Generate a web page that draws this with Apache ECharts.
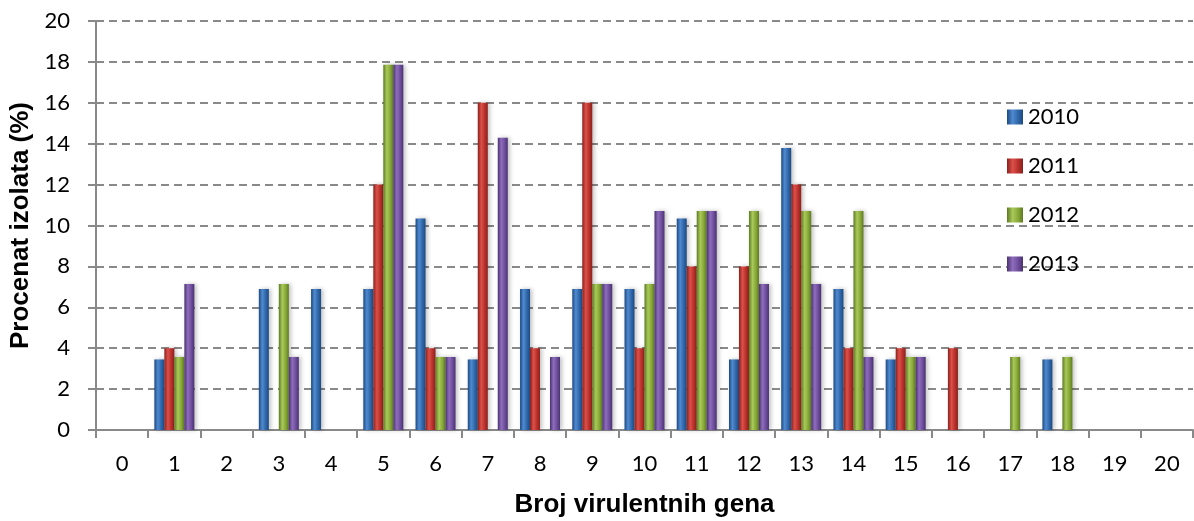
<!DOCTYPE html>
<html>
<head>
<meta charset="utf-8">
<script src="https://cdn.jsdelivr.net/npm/echarts@6/dist/echarts.min.js"></script>
<style>
  html, body { margin: 0; padding: 0; background: #fff; }
  #main { width: 1194px; height: 521px; }
</style>
</head>
<body>
<div id="main"></div>
<script>
// kategorije: broj virulentnih gena
const categories = ['0','1','2','3','4','5','6','7','8','9','10','11','12','13','14','15','16','17','18','19','20'];
// procenat izolata po godini (0 = nema stubića)
const y2010 = [0, 3.45, 0, 6.9, 6.9, 6.9, 10.34, 3.45, 6.9, 6.9, 6.9, 10.34, 3.45, 13.79, 6.9, 3.45, 0, 0, 3.45, 0, 0];
const y2011 = [0, 4, 0, 0, 0, 12, 4, 16, 4, 16, 4, 8, 8, 12, 4, 4, 4, 0, 0, 0, 0];
const y2012 = [0, 3.57, 0, 7.14, 0, 17.86, 3.57, 0, 0, 7.14, 7.14, 10.71, 10.71, 10.71, 10.71, 3.57, 0, 3.57, 3.57, 0, 0];
const y2013 = [0, 7.14, 0, 3.57, 0, 17.86, 3.57, 14.29, 3.57, 7.14, 10.71, 10.71, 7.14, 7.14, 3.57, 3.57, 0, 0, 0, 0, 0];
const yTicks = [0, 2, 4, 6, 8, 10, 12, 14, 16, 18, 20];

const chart = echarts.init(document.getElementById('main'));

// "3D" izgled stubića - horizontalni gradijent
function grad(dark, mid, light) {
    return new echarts.graphic.LinearGradient(0, 0, 1, 0, [
        { offset: 0, color: dark },
        { offset: 0.35, color: light },
        { offset: 0.7, color: mid },
        { offset: 1, color: dark }
    ]);
}

function makeSeries(name, data, c) {
    return {
        name: name,
        type: 'bar',
        data: data.map(v => (v === 0 ? null : v)),
        barWidth: 10,
        barGap: '0%',
        itemStyle: {
            color: grad(c[0], c[1], c[2]),
            shadowColor: 'rgba(0,0,0,0.25)',
            shadowBlur: 4,
            shadowOffsetX: 2
        }
    };
}

const option = {
    animation: false,
    textStyle: { fontFamily: 'Lato' },
    grid: { left: 96, right: 1, top: 21, bottom: 91, containLabel: false, outerBoundsMode: 'none' },
    legend: {
        orient: 'vertical',
        left: 1002,
        top: 101,
        itemWidth: 16,
        itemHeight: 15,
        itemGap: 27,
        icon: 'rect',
        textStyle: { fontSize: 22, lineHeight: 22, color: '#000', fontFamily: 'Lato' },
        data: ['2010', '2011', '2012', '2013']
    },
    xAxis: {
        type: 'category',
        data: categories,
        name: 'Broj virulentnih gena',
        nameLocation: 'middle',
        nameGap: 62,
        nameTextStyle: { fontSize: 26, fontWeight: 'bold', color: '#000', fontFamily: 'Liberation Sans' },
        axisLine: { lineStyle: { color: '#898989', width: 2 } },
        axisTick: { show: true, length: 8, lineStyle: { color: '#898989', width: 2 } },
        axisLabel: { fontSize: 22, color: '#000', margin: 23 }
    },
    yAxis: {
        type: 'value',
        min: 0,
        max: 20,
        interval: 2,
        name: 'Procenat izolata (%)',
        nameLocation: 'middle',
        nameGap: 60,
        nameTextStyle: { fontSize: 26, fontWeight: 'bold', color: '#000', fontFamily: 'Liberation Sans' },
        axisLine: { show: true, lineStyle: { color: '#898989', width: 2 } },
        axisTick: { show: true, length: 8, lineStyle: { color: '#898989', width: 2 } },
        axisLabel: {
            fontSize: 22, color: '#000', margin: 26,
            formatter: v => (yTicks.indexOf(v) >= 0 ? String(v) : '')
        },
        splitLine: { lineStyle: { color: '#898989', type: [8, 5], width: 2 } }
    },
    series: [
        makeSeries('2010', y2010, ['#1d4a82', '#2f66a8', '#4f8ad0']),
        makeSeries('2011', y2011, ['#8a201c', '#b8302b', '#dc5049']),
        makeSeries('2012', y2012, ['#5d7a22', '#87a837', '#a9c95a']),
        makeSeries('2013', y2013, ['#4a3270', '#6d4d9c', '#8f6dbd'])
    ]
};

option && chart.setOption(option);
</script>
</body>
</html>
